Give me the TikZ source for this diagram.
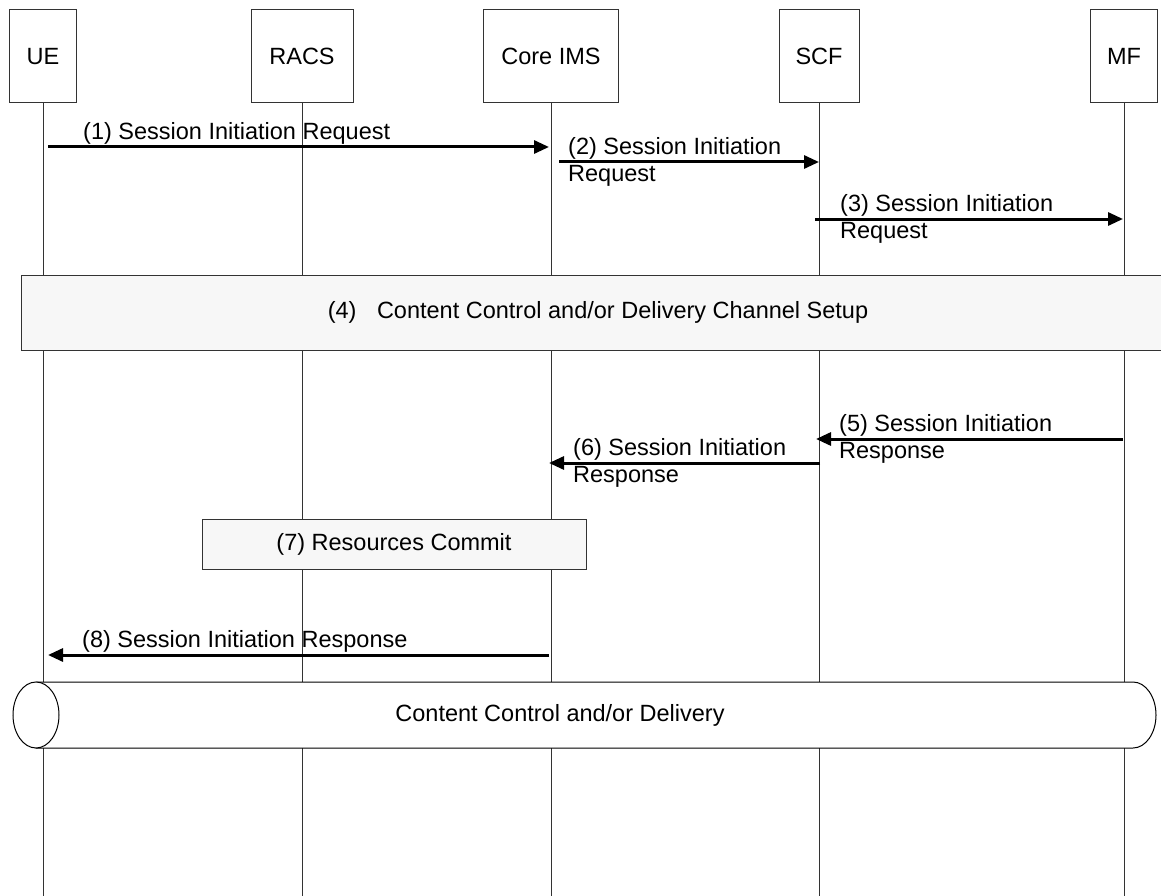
\documentclass[tikz,border=0pt]{standalone}
\usepackage{fontspec}
\setmainfont{Liberation Sans}
\usetikzlibrary{arrows.meta,positioning}

\tikzset{
    entita/.style={draw=black!80, line width=1pt, minimum height=93pt, inner sep=0pt, font=\fontsize{23.5pt}{27pt}\selectfont},
    vita/.style={draw=black!80, line width=1pt},
    msg/.style={line width=3pt, -{Triangle[length=15pt,width=13pt]}},
    etich/.style={inner sep=0pt, align=left, font=\fontsize{23.5pt}{27pt}\selectfont},
    fase/.style={draw=black!80, line width=1pt, fill=black!3, inner sep=0pt, font=\fontsize{23.5pt}{27pt}\selectfont},
}

\begin{document}
\begin{tikzpicture}[x=1pt, y=-1pt]
    \useasboundingbox (0,0) rectangle (1161,896);

    % Entita
    \node[entita, minimum width=67pt] (ue) at (43,56.5) {UE};
    \node[entita, minimum width=102pt] (racs) at (302,56.5) {RACS};
    \node[entita, minimum width=135pt] (ims) at (551,56.5) {Core IMS};
    \node[entita, minimum width=80pt] (scf) at (819,56.5) {SCF};
    \node[entita, minimum width=67pt] (mf) at (1124,56.5) {MF};

    % Linee di vita
    \foreach \e in {ue,racs,ims,scf,mf}
        \draw[vita] (\e.south) -- (\e.south |- 0,896);

    % Fasi
    \node[fase, minimum width=1154pt, minimum height=75pt] (setup) at (598,312.5) {(4)\hspace{14pt} Content Control and/or Delivery Channel Setup};
    \node[fase, minimum width=384pt, minimum height=50pt] (commit) at (394,544) {(7) Resources Commit};

    % Consegna
    \draw[line width=1pt, fill=white] (36,682) -- (1133,682)
        .. controls (1145.7,682) and (1156,696.8) .. (1156,715)
        .. controls (1156,733.2) and (1145.7,748) .. (1133,748) -- (36,748) -- cycle;
    \draw[line width=1pt, fill=white] (36,715) ellipse [x radius=23pt, y radius=33pt];
    \node[etich] (consegna) at (560,715) {Content Control and/or Delivery};

    % Punti dei messaggi
    \coordinate (m1a) at (48,147);   \coordinate (m1b) at (549,147);
    \coordinate (m2a) at (559,162);  \coordinate (m2b) at (819,162);
    \coordinate (m3a) at (815,219);  \coordinate (m3b) at (1123,219);
    \coordinate (m5a) at (1123,439); \coordinate (m5b) at (816,439);
    \coordinate (m6a) at (820,463);  \coordinate (m6b) at (549,463);
    \coordinate (m8a) at (549,655);  \coordinate (m8b) at (48,655);

    % Messaggi
    \draw[msg] (m1a) -- (m1b);
    \draw[msg] (m2a) -- (m2b);
    \draw[msg] (m3a) -- (m3b);
    \draw[msg] (m5a) -- (m5b);
    \draw[msg] (m6a) -- (m6b);
    \draw[msg] (m8a) -- (m8b);

    % Etichette
    \node[etich, anchor=base west] (e1) at (83,140) {(1) Session Initiation Request};
    \node[etich, anchor=west] (e2) at (568,162) {(2) Session Initiation\\Request};
    \node[etich, anchor=west] (e3) at (840,219) {(3) Session Initiation\\Request};
    \node[etich, anchor=west] (e5) at (839,439) {(5) Session Initiation\\Response};
    \node[etich, anchor=west] (e6) at (573,463) {(6) Session Initiation\\Response};
    \node[etich, anchor=base west] (e8) at (82,647) {(8) Session Initiation Response};
\end{tikzpicture}
\end{document}
